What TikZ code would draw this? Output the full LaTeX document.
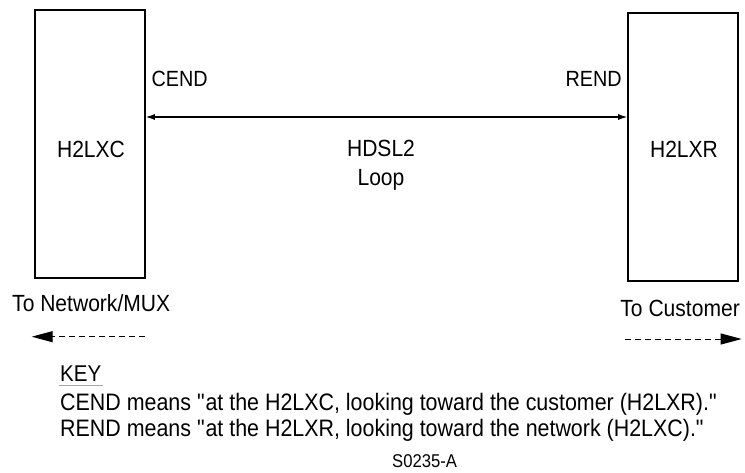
\documentclass[tikz,border=0pt]{standalone}
\usepackage{fontspec}
\setmainfont[FakeStretch=0.9]{Liberation Sans}
\usetikzlibrary{arrows.meta}
\newcommand\fs[1]{\fontsize{#1}{#1}\selectfont}
\newcommand\qq{\textquotedbl}
\begin{document}
\begin{tikzpicture}[x=1pt,y=-1pt,
  unitbox/.style={draw,line width=1.6pt,minimum width=110pt,minimum height=268pt,inner sep=0pt},
  lbl/.style={inner sep=0pt},
  keytext/.style={inner sep=0pt,anchor=base west,font=\fs{23.8}},
  dirarrow/.style={line width=1pt,dash pattern=on 6pt off 4pt,-{Triangle[length=21pt,width=11pt]}},
  looparrow/.style={line width=1.1pt,{Latex[length=9pt,width=6pt]}-{Latex[length=9pt,width=6pt]}}]
\useasboundingbox (0,0) rectangle (745,472);
\node[unitbox] (c) at (90,144) {};
\node[unitbox] (r) at (683,146.7) {};
\node[lbl,anchor=base,font=\fs{23.4}] (cl) at (91,157) {H2LXC};
\node[lbl,anchor=base,font=\fs{23.4}] (rl) at (684,157) {H2LXR};
\coordinate (cp) at (c.east |- 0,117);
\coordinate (rp) at (r.west |- 0,117);
\draw[looparrow] (cp) -- (rp);
\node[lbl,anchor=base west,font=\fs{22}] (cend) at (151.5,86.8) {CEND};
\node[lbl,anchor=base east,font=\fs{22}] (rend) at (622,86.8) {REND};
\node[lbl,anchor=base,font=\fs{23.4}] (hdsl) at (381,156) {HDSL2};
\node[lbl,anchor=base,font=\fs{23.4}] (loop) at (381,185) {Loop};
\node[lbl,anchor=base west,font=\fs{23.4}] (net) at (12,311.7) {To Network/MUX};
\node[lbl,anchor=base east,font=\fs{23.4}] (cust) at (740,316.7) {To Customer};
\coordinate (nets) at (145,336.7);
\coordinate (nete) at (31.7,336.7);
\draw[dirarrow] (nets) -- (nete);
\coordinate (custs) at (625,339);
\coordinate (custe) at (741.7,339);
\draw[dirarrow] (custs) -- (custe);
\node[keytext,font=\fs{22.8}] (key) at (60,381.7) {KEY};
\draw[black!35,line width=0.9pt] (59,385.5) -- (103,385.5);
\node[keytext] (k1) at (60,410.5) {CEND means \qq at the H2LXC, looking toward the customer (H2LXR).\qq};
\node[keytext] (k2) at (60,436) {REND means \qq at the H2LXR, looking toward the network (H2LXC).\qq};
\node[inner sep=0pt,anchor=base west,font=\fs{18.5}] (id) at (392,467.5) {S0235-A};
\end{tikzpicture}
\end{document}
